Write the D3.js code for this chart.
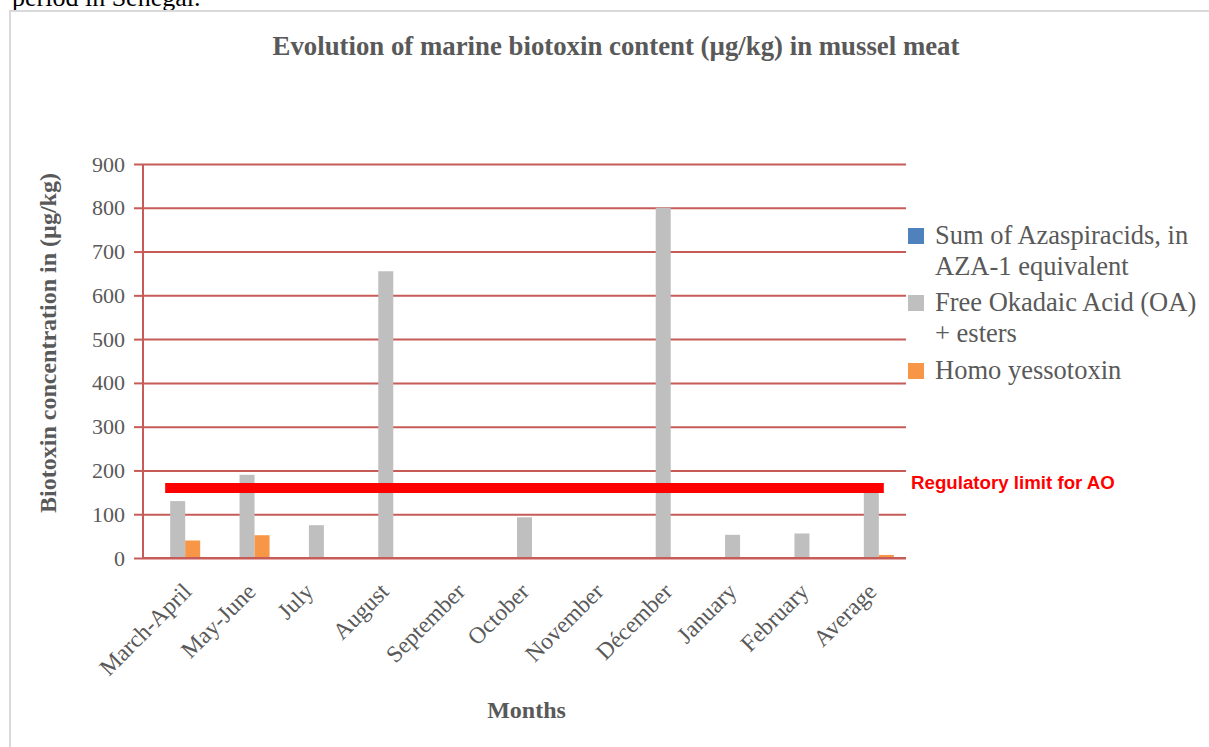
<!DOCTYPE html>
<html><head><meta charset="utf-8">
<script src="https://cdn.jsdelivr.net/npm/d3@7"></script>
<style>body{margin:0;background:#fff} svg{display:block}</style>
</head><body>
<svg id="c" width="1209" height="747"></svg>
<script>
// ---- data ----
const categories = ["March-April","May-June","July","August","September","October","November","Décember","January","February","Average"];
const azaspiracids = [0,0,0,0,0,0,0,0,0,0,0];
const okadaicAcid = [130,190,75,655,0,93,0,800,53,56,165];
const homoYessotoxin = [40,52,0,0,0,0,0,0,0,0,7];
const seriesLabels = [["Sum of Azaspiracids, in","AZA-1 equivalent"],["Free Okadaic Acid (OA)","+ esters"],["Homo yessotoxin"]];
const seriesColors = ["#4F81BD","#BFBFBF","#F79646"];
const yTicks = [0,100,200,300,400,500,600,700,800,900];
const regulatoryLimit = 160;
const chartTitle = "Evolution of marine biotoxin content (µg/kg) in mussel meat";
const xTitle = "Months";
const yTitle = "Biotoxin concentration in (µg/kg)";
const limitLabel = "Regulatory limit for AO";
const captionText = "period in Senegal.";

// ---- layout ----
const svg = d3.select("#c");
const serif = "'Liberation Serif','Times New Roman',serif";
const textGray = "#595959";
const gridColor = "#C65B58";
const L = 143, R = 906, T = 164, B = 558;

svg.append("rect").attr("width",1209).attr("height",747).attr("fill","#fff");
svg.append("text").attr("x",12).attr("y",6).attr("font-family",serif).attr("font-size",26)
  .attr("fill","#000").text(captionText);
svg.append("path").attr("d","M1209,11 H10 V747").attr("fill","none")
  .attr("stroke","#D9D9D9").attr("stroke-width",2);

const series = [azaspiracids, okadaicAcid, homoYessotoxin];
const x = d3.scaleBand().domain(categories).range([L,R]).paddingInner(0.351).paddingOuter(0.1755);
const xs = d3.scaleBand().domain(d3.range(series.length)).range([0,x.bandwidth()]);
const y = d3.scaleLinear().domain([0,900]).range([B,T]);

// gridlines
const grid = svg.append("g").attr("transform",`translate(${L},0)`)
  .call(d3.axisLeft(y).tickValues(yTicks).tickSize(-(R-L)).tickFormat(""));
grid.select(".domain").remove();
grid.selectAll("line").attr("stroke",gridColor).attr("stroke-width",2);

// bars
series.forEach((vals,i)=>{
  svg.append("g").selectAll("rect").data(vals).join("rect")
    .attr("x",(d,j)=>x(categories[j])+xs(i))
    .attr("width",xs.bandwidth())
    .attr("y",d=>y(d))
    .attr("height",d=>y(0)-y(d))
    .attr("fill",seriesColors[i]);
});

// y axis
const ya = svg.append("g").attr("transform",`translate(${L},0)`)
  .call(d3.axisLeft(y).tickValues(yTicks).tickSize(9).tickPadding(9));
ya.select(".domain").attr("stroke",gridColor).attr("stroke-width",2).attr("d",`M0,${T}V${B}`);
ya.selectAll(".tick line").attr("stroke",gridColor).attr("stroke-width",2);
ya.selectAll(".tick text").attr("font-family",serif).attr("font-size",22).attr("fill",textGray);
svg.append("line").attr("x1",L).attr("x2",R).attr("y1",y(0)).attr("y2",y(0))
  .attr("stroke",gridColor).attr("stroke-width",2);

// x labels (rotated, shifted slightly with label length as in the source)
svg.append("g").selectAll("text").data(categories).join("text")
  .attr("text-anchor","end").attr("font-family",serif).attr("font-size",23.5).attr("fill",textGray)
  .text(d=>d)
  .attr("transform",function(d){
    const len = this.getComputedTextLength();
    return `translate(${x(d)+x.bandwidth()/2-10+0.2125*len},${B+35}) rotate(-45)`;
  });

// regulatory limit
svg.append("line")
  .attr("x1",x(categories[0])+10).attr("x2",x(categories[categories.length-1])+35)
  .attr("y1",y(regulatoryLimit)).attr("y2",y(regulatoryLimit))
  .attr("stroke","#FF0000").attr("stroke-width",10);
svg.append("text").attr("x",R+5).attr("y",y(regulatoryLimit)+1)
  .attr("font-family","'Liberation Sans',Arial,sans-serif").attr("font-weight","bold")
  .attr("font-size",18.7).attr("fill","#FF0000").text(limitLabel);

// titles
svg.append("text").attr("x",616).attr("y",55).attr("text-anchor","middle")
  .attr("font-family",serif).attr("font-weight","bold").attr("font-size",26.8).attr("fill",textGray)
  .text(chartTitle);
svg.append("text").attr("x",(L+R)/2+2).attr("y",718).attr("text-anchor","middle")
  .attr("font-family",serif).attr("font-weight","bold").attr("font-size",24).attr("fill",textGray)
  .text(xTitle);
svg.append("text").attr("transform",`translate(56,${(T+B)/2-18}) rotate(-90)`).attr("text-anchor","middle")
  .attr("font-family",serif).attr("font-weight","bold").attr("font-size",24).attr("fill",textGray)
  .text(yTitle);

// legend
const legendTops = [228,295,363];
const lg = svg.append("g");
seriesLabels.forEach((lines,i)=>{
  lg.append("rect").attr("x",908).attr("y",legendTops[i]).attr("width",16).attr("height",16)
    .attr("fill",seriesColors[i]);
  lines.forEach((t,k)=>{
    lg.append("text").attr("x",935).attr("y",legendTops[i]+16+k*30.5)
      .attr("font-family",serif).attr("font-size",26.5).attr("fill",textGray).text(t);
  });
});
</script>
</body></html>
